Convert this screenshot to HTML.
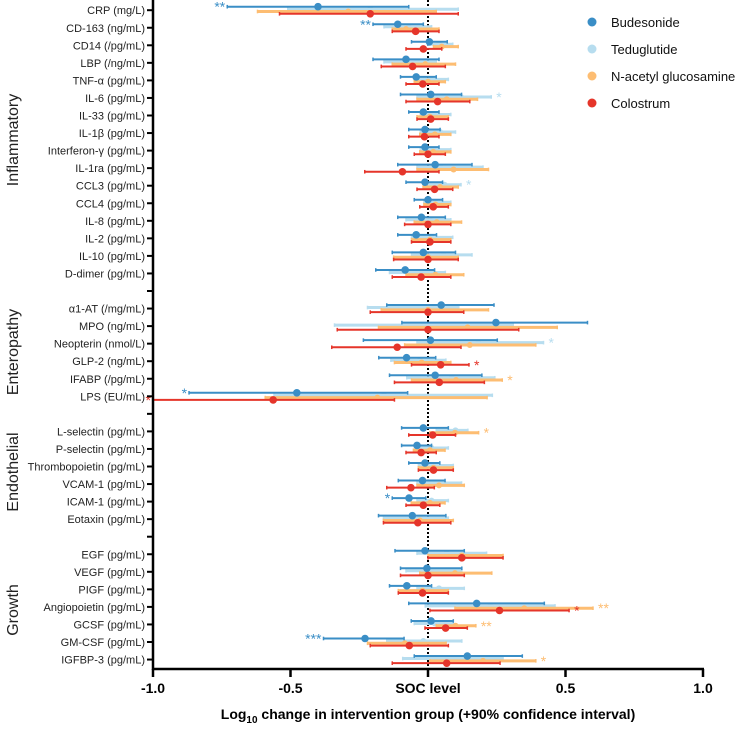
<!DOCTYPE html>
<html><head><meta charset="utf-8"><style>
body{margin:0;background:#fff}
svg{display:block;font-family:"Liberation Sans",Arial,sans-serif}
</style></head><body>
<svg id="chart" width="738" height="729" viewBox="0 0 738 729"></svg>
<script>
const rowLabels=["CRP (mg/L)","CD-163 (ng/mL)","CD14 (/pg/mL)","LBP (/ng/mL)","TNF-α (pg/mL)","IL-6 (pg/mL)","IL-33 (pg/mL)","IL-1β (pg/mL)","Interferon-γ (pg/mL)","IL-1ra (pg/mL)","CCL3 (pg/mL)","CCL4 (pg/mL)","IL-8 (pg/mL)","IL-2 (pg/mL)","IL-10 (pg/mL)","D-dimer (pg/mL)",
"α1-AT (/mg/mL)","MPO (ng/mL)","Neopterin (nmol/L)","GLP-2 (ng/mL)","IFABP (/pg/mL)","LPS (EU/mL)",
"L-selectin (pg/mL)","P-selectin (pg/mL)","Thrombopoietin (pg/mL)","VCAM-1 (pg/mL)","ICAM-1 (pg/mL)","Eotaxin (pg/mL)",
"EGF (pg/mL)","VEGF (pg/mL)","PIGF (pg/mL)","Angiopoietin (pg/mL)","GCSF (pg/mL)","GM-CSF (pg/mL)","IGFBP-3 (pg/mL)"];
const rowSlots=[0,1,2,3,4,5,6,7,8,9,10,11,12,13,14,15,17,18,19,20,21,22,24,25,26,27,28,29,31,32,33,34,35,36,37];
const gapSlots=[16,23,30];
const groups=["Inflammatory","Enteropathy","Endothelial","Growth"];
const seriesNames=["Budesonide","Teduglutide","N-acetyl glucosamine","Colostrum"];
const xTicks=[-1,-0.5,0,0.5,1];
const xTickLabels=["-1.0","-0.5","SOC level","0.5","1.0"];

const budLo=[-0.73,-0.20,-0.06,-0.20,-0.10,-0.10,-0.07,-0.07,-0.07,-0.11,-0.08,-0.05,-0.11,-0.11,-0.13,-0.19,-0.15,-0.095,-0.235,-0.179,-0.14,-0.869,-0.096,-0.096,-0.07,-0.108,-0.13,-0.18,-0.12,-0.10,-0.14,-0.07,-0.061,-0.38,-0.05];
const budMid=[-0.40,-0.11,0.005,-0.08,-0.043,0.01,-0.017,-0.011,-0.011,0.026,-0.011,0,-0.024,-0.043,-0.017,-0.083,0.048,0.247,0.009,-0.078,0.026,-0.477,-0.017,-0.04,-0.011,-0.02,-0.069,-0.057,-0.011,-0.004,-0.077,0.177,0.011,-0.229,0.143];
const budHi=[-0.07,-0.017,0.07,0.04,0.03,0.122,0.04,0.044,0.04,0.16,0.053,0.053,0.063,0.031,0.10,0.024,0.24,0.58,0.252,0.028,0.196,-0.074,0.074,0.013,0.043,0.062,-0.008,0.065,0.132,0.123,0.013,0.423,0.092,-0.087,0.343];

const tedLo=[-0.51,-0.16,0.0,-0.16,-0.05,-0.04,-0.028,-0.028,-0.028,-0.04,0.0,-0.015,-0.08,-0.06,-0.06,-0.14,-0.22,-0.34,-0.04,-0.135,-0.077,-0.56,0.03,-0.04,-0.035,-0.04,-0.04,-0.162,-0.04,-0.08,-0.04,-0.01,-0.05,-0.15,-0.092];
const tedMid=[-0.21,-0.07,0.04,-0.04,0.01,0.12,0.03,0.044,0.019,0.044,0.06,0.027,0.007,0.013,0.057,-0.04,-0.04,-0.017,0.183,-0.029,0.086,-0.16,0.10,0.013,0.02,0.05,0.013,-0.029,0.068,-0.004,0.04,0.226,0.025,-0.017,0.092];
const tedHi=[0.11,0.013,0.09,0.03,0.074,0.23,0.083,0.10,0.083,0.20,0.12,0.083,0.083,0.09,0.16,0.063,0.112,0.31,0.42,0.065,0.243,0.234,0.145,0.074,0.092,0.122,0.074,0.074,0.213,0.123,0.132,0.462,0.092,0.123,0.273];

const nagLo=[-0.62,-0.13,0.02,-0.13,-0.05,-0.04,-0.04,-0.03,-0.03,-0.04,-0.018,-0.015,-0.05,-0.06,-0.125,-0.08,-0.17,-0.18,-0.085,-0.122,-0.06,-0.592,0.007,-0.053,-0.035,-0.04,-0.061,-0.162,0.0,-0.03,-0.108,0.098,0.03,-0.22,0.007];
const nagMid=[-0.29,-0.08,0.05,-0.01,0.0,0.068,0.007,0.025,0.019,0.093,0.044,0.027,0.032,0.007,0.0,0.027,0.0,0.144,0.152,-0.023,0.102,-0.184,0.098,0.007,0.02,0.04,0.007,-0.029,0.123,0.098,-0.02,0.35,0.10,-0.084,0.20];
const nagHi=[0.03,0.04,0.11,0.10,0.063,0.18,0.074,0.083,0.083,0.22,0.11,0.083,0.122,0.083,0.11,0.13,0.22,0.47,0.392,0.083,0.27,0.215,0.184,0.062,0.092,0.132,0.062,0.092,0.273,0.232,0.074,0.60,0.174,0.066,0.392];

const colLo=[-0.54,-0.13,-0.08,-0.17,-0.08,-0.08,-0.04,-0.07,-0.05,-0.23,-0.04,-0.03,-0.085,-0.06,-0.125,-0.13,-0.21,-0.33,-0.35,-0.06,-0.122,-1.0,-0.07,-0.08,-0.035,-0.15,-0.08,-0.162,0.0,-0.10,-0.108,0.007,-0.011,-0.21,-0.13];
const colMid=[-0.21,-0.045,-0.017,-0.056,-0.019,0.035,0.01,-0.013,0.0,-0.093,0.024,0.019,0.0,0.007,0.0,-0.025,0.0,0.0,-0.112,0.046,0.041,-0.563,0.017,-0.025,0.02,-0.062,-0.017,-0.037,0.123,0.0,-0.02,0.26,0.064,-0.068,0.068];
const colHi=[0.11,0.04,0.05,0.063,0.04,0.152,0.074,0.04,0.063,0.04,0.09,0.074,0.083,0.083,0.11,0.083,0.13,0.33,0.12,0.149,0.205,-0.122,0.10,0.03,0.092,0.023,0.043,0.083,0.273,0.132,0.074,0.513,0.143,0.074,0.262];

const starSeries=[0,0,1,1,1,3,2,0,3,2,0,2,3,2,0,2];
const starRows=[0,1,5,10,18,19,20,21,21,22,26,31,31,32,33,34];
const starText=["**","**","*","*","*","*","*","*","*","*","*","**","*","**","***","*"];
const starSide=["L","L","R","R","R","R","R","L","L","R","L","R","R","R","L","R"];

const NS="http://www.w3.org/2000/svg";
const svg=document.getElementById("chart");
const X0=428, XS=275, AXY=669;
function xs(v){return X0+v*XS;}
function slotY(s){return 10.2+s*17.55;}
function mk(tag,attrs,parent){const e=document.createElementNS(NS,tag);for(const k in attrs)e.setAttribute(k,attrs[k]);(parent||svg).appendChild(e);return e;}

const colors=["#3a8ec6","#b7ddef","#fdbd72","#e5352a"];
const offs=[-3.5,-1,1.3,3.6];
const los=[budLo,tedLo,nagLo,colLo], mids=[budMid,tedMid,nagMid,colMid], his=[budHi,tedHi,nagHi,colHi];
const widths=[2,3,3,2];
const radii=[3.8,3,3,3.8];

let zl=mk("line",{x1:X0,x2:X0,y1:0,y2:AXY,stroke:"#000","stroke-width":2,"stroke-dasharray":"2 2"});



const order=[1,2,0,3];
for(const s of order){
  const g=mk("g",{});
  
  
  for(let i=0;i<rowLabels.length;i++){
    const y=slotY(rowSlots[i])+offs[s];
    const a=xs(Math.max(-1,los[s][i])),b=xs(his[s][i]),m=xs(mids[s][i]);
    const ln=mk("line",{x1:a,x2:b,y1:y,y2:y,stroke:colors[s],"stroke-width":widths[s]},g);
    
    
    mk("line",{x1:a,x2:a,y1:y-1.8,y2:y+1.8,stroke:colors[s],"stroke-width":1.5},g);
    mk("line",{x1:b,x2:b,y1:y-1.8,y2:y+1.8,stroke:colors[s],"stroke-width":1.5},g);
    const c=mk("circle",{cx:m,cy:y,r:radii[s],fill:colors[s]},g);
    
    
  }
}
for(let k=0;k<starRows.length;k++){
  const s=starSeries[k],i=starRows[k];
  const y=slotY(rowSlots[i])+offs[s]+5;
  const left=starSide[k]==="L";
  const x=left?xs(Math.max(-1,los[s][i]))-2:xs(his[s][i])+5;
  const t=mk("text",{x:x,y:y,fill:colors[s],"font-size":14,"text-anchor":left?"end":"start"});
  t.textContent=starText[k];
  
  
}
let ya=mk("line",{x1:153,x2:153,y1:0,y2:AXY+1,stroke:"#000","stroke-width":2.5});


for(let i=0;i<rowLabels.length;i++){
  const y=slotY(rowSlots[i]);
  mk("line",{x1:147,x2:153,y1:y,y2:y,stroke:"#000","stroke-width":2});
  const t=mk("text",{x:145,y:y+4,"font-size":11,"text-anchor":"end",fill:"#222"});
  t.textContent=rowLabels[i];
  
  
}
for(const s of gapSlots){const y=slotY(s);mk("line",{x1:147,x2:153,y1:y,y2:y,stroke:"#000","stroke-width":2});}
const groupY=[140,352,472,610];
for(let g=0;g<groups.length;g++){
  const t=mk("text",{x:0,y:0,"font-size":16,"text-anchor":"middle",fill:"#222",transform:`translate(18,${groupY[g]}) rotate(-90)`});
  t.textContent=groups[g];
  
  
}
let xa=mk("line",{x1:152,x2:704,y1:AXY,y2:AXY,stroke:"#000","stroke-width":2.5});


for(let k=0;k<xTicks.length;k++){
  const x=xs(xTicks[k]);
  mk("line",{x1:x,x2:x,y1:AXY,y2:AXY+8,stroke:"#000","stroke-width":2.5});
  const t=mk("text",{x:x,y:AXY+24,"font-size":14,"font-weight":"bold","text-anchor":"middle"});
  t.textContent=xTickLabels[k];
  
  
}
const tt=mk("text",{x:428,y:719,"font-size":14,"font-weight":"bold","text-anchor":"middle"});


tt.innerHTML='Log<tspan font-size="10" dy="4">10</tspan><tspan dy="-4"> change in intervention group (+90% confidence interval)</tspan>';
const legY=[22,49,76,103];
for(let s=0;s<4;s++){
  const g=mk("g",{});
  
  
  mk("circle",{cx:592,cy:legY[s],r:4.5,fill:colors[s]},g);
  const t=mk("text",{x:611,y:legY[s]+5,"font-size":13,fill:"#111"},g);
  t.textContent=seriesNames[s];
}
</script>
</body></html>
